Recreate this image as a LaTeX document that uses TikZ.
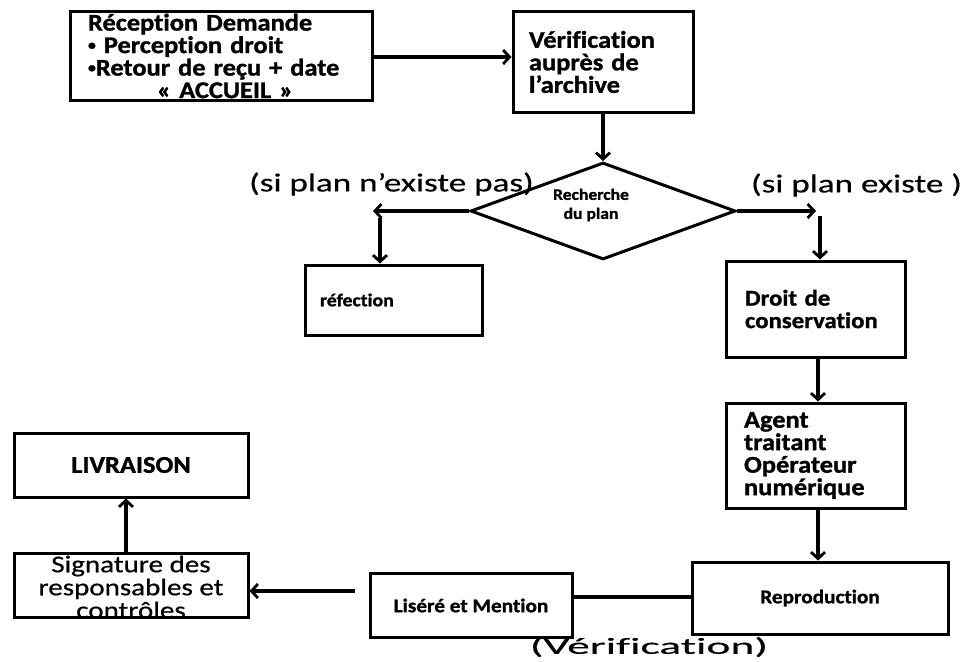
\documentclass[tikz,border=0pt]{standalone}
\usepackage{fontspec}
\setmainfont{Carlito}[Ligatures=NoCommon]
% slightly wide, heavy faces used by the flow chart
\newfontfamily\boxfont{Carlito}[Ligatures=NoCommon, FakeStretch=1.1, BoldFeatures={FakeBold=1.2}]
\newfontfamily\sigfont{Carlito}[Ligatures=NoCommon, FakeStretch=1.21, FakeBold=0.6]
\newfontfamily\labfont{Carlito}[Ligatures=NoCommon, FakeStretch=1.35, FakeBold=0.4]
\newfontfamily\verfont{Carlito}[Ligatures=NoCommon, FakeStretch=1.98, FakeBold=0.4]
\usetikzlibrary{arrows.meta,shapes.geometric}
\newcommand{\smallbullet}{\raisebox{0.28ex}{\scalebox{0.6}{\textbullet}}}

\begin{document}
\begin{tikzpicture}[x=1pt,y=-1pt,
  box/.style={draw, line width=3pt, inner sep=0pt,
    font=\boxfont\bfseries\fontsize{24}{22.5}\selectfont},
  smallbox/.style={box, font=\boxfont\bfseries\fontsize{19.3}{22}\selectfont},
  flow/.style={line width=3.2pt, -{Straight Barb[length=6.5pt,width=14pt,line width=2.8pt]}},
  link/.style={line width=3.2pt},
  lab/.style={inner sep=0pt, font=\labfont\fontsize{26}{28}\selectfont}]

\useasboundingbox[fill=white] (0,0) rectangle (965,661);

% process boxes
\node[box, minimum width=302, minimum height=88, text width=266, align=left]
  (rec) at (221,56)
  {Réception Demande\\
   \smallbullet\ Perception droit\\
   \smallbullet Retour de reçu + date\\
   \hspace*{69pt}« ACCUEIL »};

\node[box, minimum width=180, minimum height=100, text width=156, align=left]
  (verif) at (603,62)
  {\hspace*{4pt}Vérification\\\hspace*{4pt}auprès de\\\hspace*{4pt}l’archive};

\node[draw, line width=3pt, diamond, aspect=2.73, inner sep=0pt,
  minimum width=265, minimum height=97] (rech) at (603,211) {};
\node[font=\boxfont\bfseries\fontsize{16}{19}\selectfont, align=center, inner sep=0pt]
  (rechtxt) at (591,205) {Recherche\\du plan};

\node[smallbox, font=\boxfont\bfseries\fontsize{18}{21}\selectfont,
  minimum width=177, minimum height=70, text width=147, align=left]
  (ref) at (393.5,300) {réfection};

\node[box, font=\boxfont\bfseries\fontsize{22.5}{22.5}\selectfont,
  minimum width=179, minimum height=96, text width=141, align=left]
  (droit) at (815.5,309) {Droit de\\conservation};

\node[box, minimum width=179, minimum height=105, text width=143, align=left]
  (agent) at (815.5,455.5) {Agent\\traitant\\Opérateur\\numérique};

\node[smallbox, minimum width=256, minimum height=72] (repro) at (820,598) {Reproduction};

\node[smallbox, minimum width=202, minimum height=64] (lis) at (471,605.5) {Liséré et Mention};

\node[box, minimum width=234, minimum height=64] (sig) at (131,585) {};
\node[font=\sigfont\fontsize{24}{23}\selectfont, align=center, inner sep=0pt]
  (sigtxt) at (131,587) {Signature des\\responsables et\\contrôles};

\node[box, minimum width=234, minimum height=64] (liv) at (131,465) {LIVRAISON};

% branch labels
\node[lab] (nonlab) at (391.5,184) {(si plan n’existe pas)};
\node[lab] (ouilab) at (856.5,185) {(si plan existe )};
\node[inner sep=0pt, font=\verfont\fontsize{23}{26}\selectfont] (verlab) at (649,647) {(Vérification)};

% free ends of the broken connectors
\coordinate (nonA) at (373,211);
\coordinate (nonB) at (380,218);
\coordinate (ouiA) at (816,211);
\coordinate (ouiB) at (820,216);
\coordinate (sigA) at (355,591);

% connectors
\draw[flow] (rec.east |- 0,57) -- (verif.west |- 0,57);
\draw[flow] (verif.south) -- (rech.north);
\draw[flow] (rech.west) -- (nonA);
\draw[flow] (nonB) -- (nonB |- ref.north);
\draw[flow] (rech.east) -- (ouiA);
\draw[flow] (ouiB) -- (ouiB |- droit.north);
\draw[flow] (droit.south -| 818,0) -- (agent.north -| 818,0);
\draw[flow] (agent.south -| 818,0) -- (repro.north -| 818,0);
\draw[link] (repro.west |- 0,597) -- (lis.east |- 0,597);
\draw[flow] (sigA) -- (sig.east |- sigA);
\draw[flow] (sig.north -| 126,0) -- (liv.south -| 126,0);
\end{tikzpicture}
\end{document}
